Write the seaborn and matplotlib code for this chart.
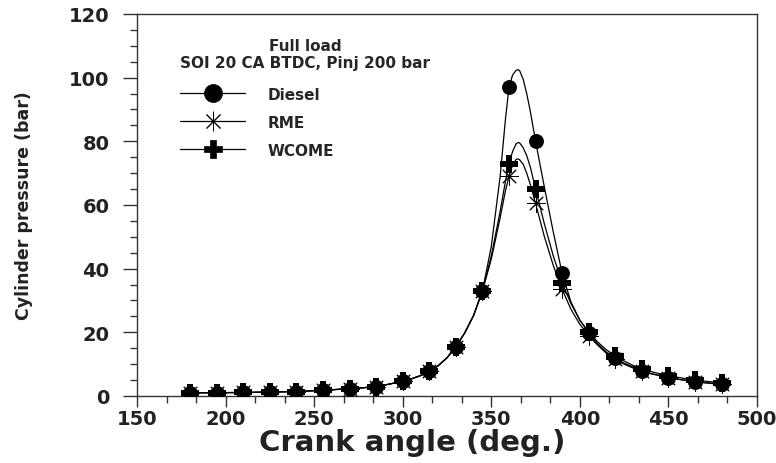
import matplotlib
matplotlib.use("Agg")
import matplotlib.pyplot as plt
from matplotlib.lines import Line2D
from matplotlib.ticker import AutoMinorLocator, MultipleLocator
import seaborn as sns
import pandas as pd

sns.set_style("ticks")
plt.rcParams['font.family'] = ['DejaVu Sans', 'Liberation Sans']
plt.rcParams['font.weight'] = 'bold'

# Crank angle samples of the curves (deg.)
angle = [180, 195, 210, 225, 240, 255, 270, 285,
         300, 305, 310, 315, 320, 325, 330, 335, 340, 345, 350, 355,
         358, 360, 362, 364, 365, 366, 368, 370, 372,
         375, 380, 385, 390, 395, 400, 405, 410, 415, 420, 425, 430,
         435, 440, 445, 450, 455, 460, 465, 470, 475, 480]

diesel = [1.0, 1.05, 1.1, 1.25, 1.4, 1.8, 2.3, 2.9,
          4.6, 5.4, 6.4, 7.7, 9.5, 12.0, 15.5, 19.8, 25.3, 33.0, 47.0, 69.0,
          87.0, 97.0, 100.8, 102.3, 102.5, 102.2, 99.5, 95.0, 89.5,
          80.0, 65.5, 51.5, 38.5, 29.5, 23.8, 19.8, 16.4, 13.8, 11.8, 10.3, 9.1,
          8.0, 7.1, 6.4, 5.8, 5.3, 4.9, 4.5, 4.2, 4.0, 3.9]

rme = [1.0, 1.05, 1.1, 1.25, 1.4, 1.8, 2.3, 2.9,
       4.6, 5.4, 6.4, 7.7, 9.5, 12.0, 15.5, 19.8, 25.3, 33.0, 43.0, 56.0,
       64.5, 69.0, 72.5, 74.3, 74.5, 74.2, 72.8, 70.0, 66.5,
       60.5, 50.0, 41.0, 33.5, 27.2, 22.5, 19.0, 16.0, 13.4, 11.5, 10.0, 8.8,
       7.8, 7.0, 6.4, 5.8, 5.3, 4.9, 4.5, 4.2, 3.9, 3.7]

wcome = [1.0, 1.05, 1.1, 1.25, 1.4, 1.8, 2.3, 2.9,
         4.6, 5.4, 6.4, 7.7, 9.5, 12.0, 15.5, 19.8, 25.3, 33.0, 44.0, 58.0,
         67.5, 73.0, 76.8, 79.2, 79.6, 79.5, 78.0, 75.5, 72.0,
         65.0, 54.0, 44.0, 35.5, 29.0, 23.8, 20.2, 17.0, 14.5, 12.6, 11.0, 9.6,
         8.5, 7.7, 7.0, 6.4, 5.9, 5.4, 5.0, 4.7, 4.4, 4.2]

series_names = ["Diesel", "RME", "WCOME"]
legend_title = "Full load\nSOI 20 CA BTDC, Pinj 200 bar"
x_label = "Crank angle (deg.)"
y_label = "Cylinder pressure (bar)"

df = pd.DataFrame({"angle": angle, "Diesel": diesel, "RME": rme, "WCOME": wcome})
marker_df = df[df["angle"] % 15 == 0]

styles = {
    "Diesel": dict(marker="o", s=115, lw=0),
    "RME": dict(marker=(8, 2, 0), s=170, lw=0.7),
    "WCOME": dict(marker="P", s=150, lw=0),
}

fig = plt.figure(figsize=(7.76, 4.64), dpi=100)
ax = fig.add_axes([0.1766, 0.1444, 0.7989, 0.8233])

for name in series_names:
    sns.lineplot(data=df, x="angle", y=name, ax=ax, color="black", lw=0.9,
                 legend=False, zorder=2)

for name in ["RME", "WCOME", "Diesel"]:
    st = styles[name]
    sns.scatterplot(data=marker_df, x="angle", y=name, ax=ax, color="black",
                    marker=st["marker"], s=st["s"], linewidth=st["lw"],
                    edgecolor="black", legend=False, zorder=3)

ax.set_xlim(150, 500)
ax.set_ylim(0, 120)
ax.xaxis.set_major_locator(MultipleLocator(50))
ax.yaxis.set_major_locator(MultipleLocator(20))
ax.xaxis.set_minor_locator(AutoMinorLocator(3))
ax.yaxis.set_minor_locator(AutoMinorLocator(4))
ax.tick_params(which="major", width=1.0, color="#333333",
               labelsize=14, direction="out", top=False, right=False)
ax.tick_params(axis="y", which="major", length=10, pad=10)
ax.tick_params(axis="x", which="major", length=8, pad=1.5)
ax.tick_params(which="minor", length=5, width=1.0, color="#333333",
               direction="out", top=False, right=False)
for lab in ax.get_xticklabels() + ax.get_yticklabels():
    lab.set_fontweight("bold")
    lab.set_color("#222222")

for sp in ax.spines.values():
    sp.set_visible(True)
    sp.set_linewidth(1.0)
    sp.set_color("#333333")

ax.set_xlabel(x_label, fontsize=21, fontweight="bold", color="#222222", labelpad=0)
ax.xaxis.label.set_x(0.444)
ax.set_ylabel(y_label, fontsize=12.5, fontweight="bold", color="#222222", labelpad=26)

handles = []
for name in series_names:
    st = styles[name]
    ms = {"Diesel": 13, "RME": 14, "WCOME": 13}[name]
    handles.append(Line2D([0], [0], color="black", lw=0.9, marker=st["marker"],
                          markersize=ms, markerfacecolor="black",
                          markeredgecolor="black",
                          markeredgewidth=st["lw"] if st["lw"] else 0.5))
leg = ax.legend(handles, series_names, title=legend_title, loc="upper left",
                bbox_to_anchor=(0.062, 0.95), frameon=False, handlelength=4.25,
                handletextpad=1.5, labelspacing=0.85, numpoints=1,
                alignment="left", borderaxespad=0, borderpad=0.3,
                prop={"weight": "bold", "size": 11},
                title_fontproperties={"weight": "bold", "size": 11})
leg.get_title().set_multialignment("center")
leg._legend_box.sep = 12

fig.savefig("out.png", dpi=100)
